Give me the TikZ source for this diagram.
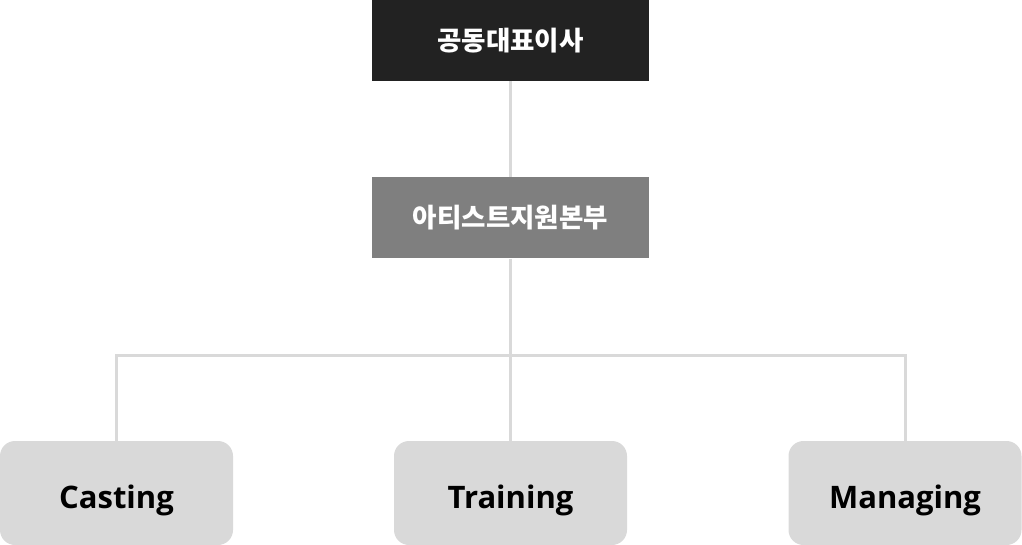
\documentclass[tikz,border=0pt]{standalone}
\usepackage{fontspec}
\setmainfont{Open Sans}
\newfontfamily\kr{Noto Sans CJK KR}
\definecolor{topbox}{HTML}{222222}
\definecolor{midbox}{HTML}{7F7F7F}
\definecolor{leafbox}{HTML}{D9D9D9}
\definecolor{conn}{HTML}{D9D9D9}
\begin{document}
\begin{tikzpicture}[x=1pt,y=-1pt,
  headbox/.style={minimum width=277pt,minimum height=81pt,inner sep=0pt,text=white,font=\kr\bfseries\fontsize{26.5}{30}\selectfont},
  leaf/.style={fill=leafbox,rounded corners=15pt,minimum width=233pt,minimum height=104pt,inner sep=0pt,text height=30pt,text depth=0pt,font=\bfseries\fontsize{31}{36}\selectfont},
  link/.style={draw=conn,line width=3pt}]
\useasboundingbox (0,0) rectangle (1022,545);
\node[headbox,fill=topbox] (ceo) at (510.5,40.5) {공동대표이사};
\node[headbox,fill=midbox] (hq) at (510.5,218) {아티스트지원본부};
\node[leaf] (cast) at (116.5,493) {Casting};
\node[leaf] (train) at (510.5,493) {Training};
\node[leaf] (manage) at (905,493) {Managing};
\coordinate (bus) at (510.5,355);
\draw[link] (ceo.south) -- (hq.north);
\draw[link] (hq.south) -- (train.north);
\draw[link] (cast.north) |- (bus) -| (manage.north);
\end{tikzpicture}
\end{document}
